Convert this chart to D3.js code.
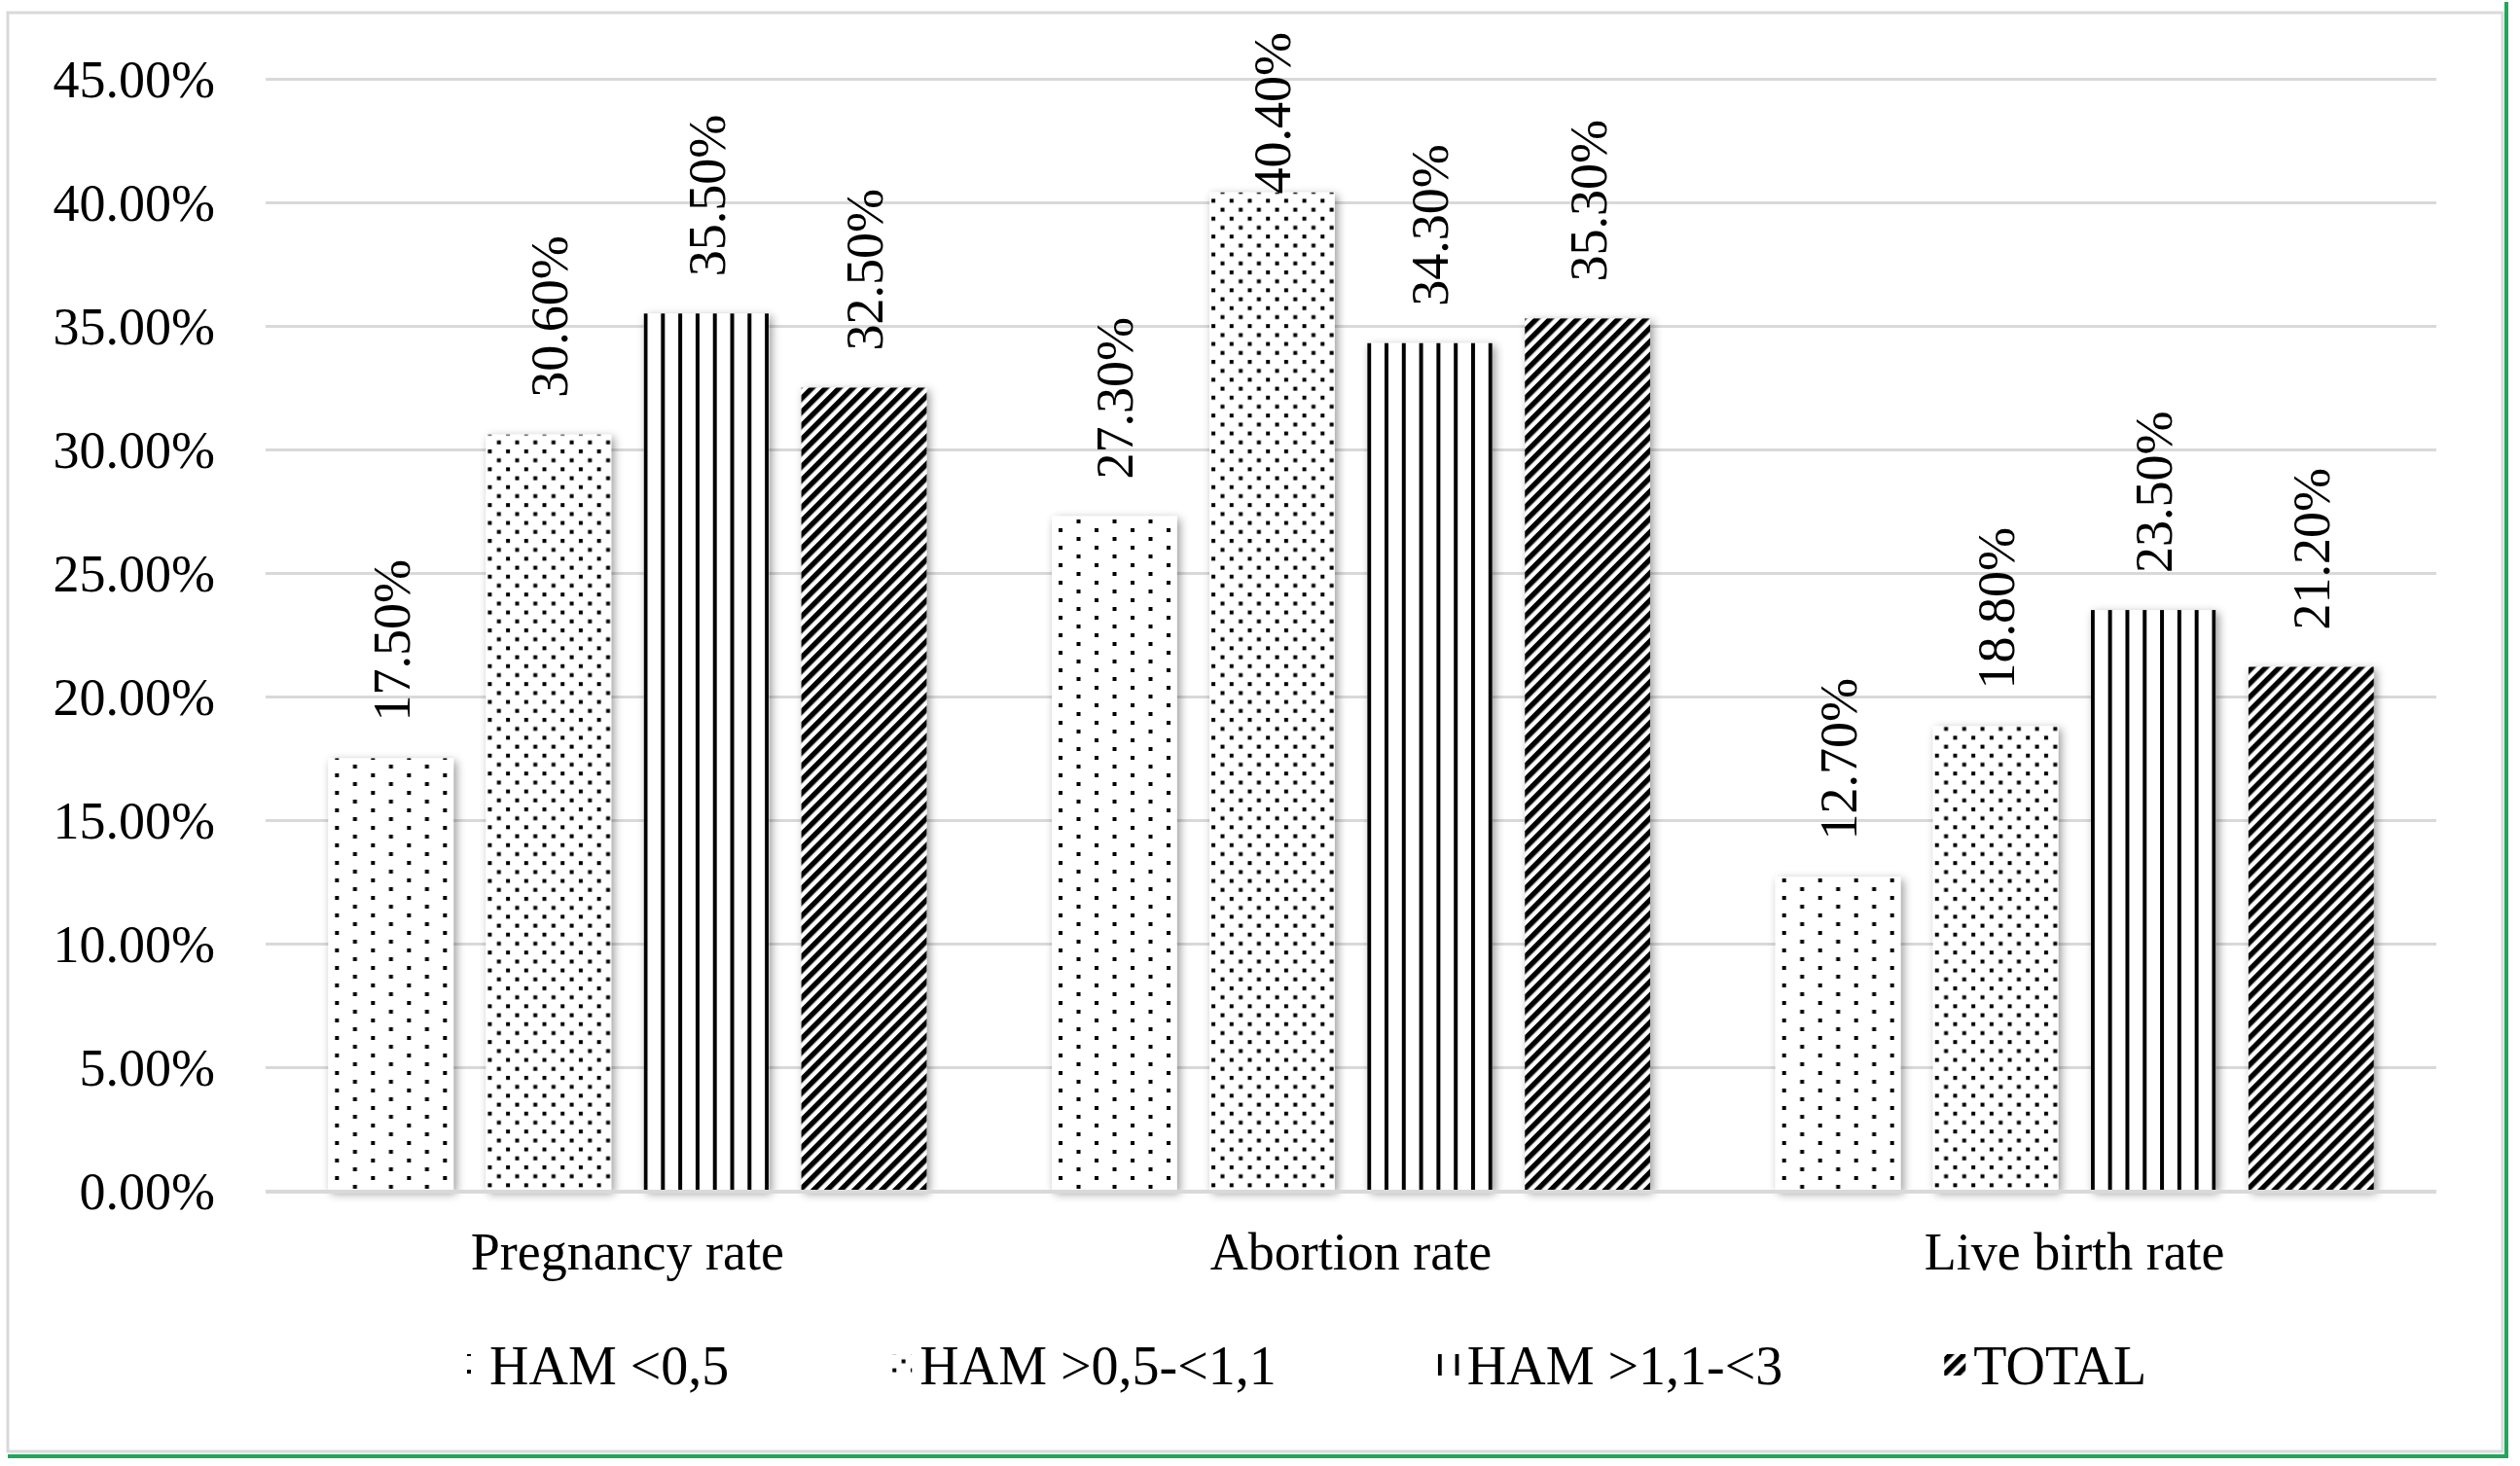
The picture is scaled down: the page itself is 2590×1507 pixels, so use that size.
<!DOCTYPE html>
<html>
<head>
<meta charset="utf-8">
<script src="https://cdn.jsdelivr.net/npm/d3@7"></script>
<style>
  body { margin: 0; background: #fff; }
  text { font-family: "Liberation Serif", "Times New Roman", serif; fill: #000; }
</style>
</head>
<body>
<div id="chart"></div>
<script>
// —————————— DATA
var categories = ["Pregnancy rate", "Abortion rate", "Live birth rate"];
var seriesNames = ["HAM <0,5", "HAM >0,5-<1,1", "HAM >1,1-<3", "TOTAL"];
var hamLow = [0.175, 0.273, 0.127];
var hamMid = [0.306, 0.404, 0.188];
var hamHigh = [0.355, 0.343, 0.235];
var total = [0.325, 0.353, 0.212];
var yTicks = [0, 0.05, 0.10, 0.15, 0.20, 0.25, 0.30, 0.35, 0.40, 0.45];

var seriesValues = [hamLow, hamMid, hamHigh, total];

// —————————— LAYOUT
var W = 2590, H = 1507;
var plot = {left: 273, right: 2504, top: 81, bottom: 1224};
var gridColor = "#d9d9d9";

var svg = d3.select("#chart")
  .append("svg")
    .attr("width", W)
    .attr("height", H);

var defs = svg.append("defs");

// soft shadow round the bars
var f = defs.append("filter")
    .attr("id", "shadow")
    .attr("x", "-30%").attr("y", "-10%")
    .attr("width", "160%").attr("height", "120%");
f.append("feDropShadow")
    .attr("dx", 3).attr("dy", 3)
    .attr("stdDeviation", 5)
    .attr("flood-color", "#000")
    .attr("flood-opacity", 0.4);

// pattern fills (one per series)
function addPattern(id, w, h, draw, transform) {
  var p = defs.append("pattern")
      .attr("id", id)
      .attr("patternUnits", "userSpaceOnUse")
      .attr("width", w)
      .attr("height", h);
  if (transform) p.attr("patternTransform", transform);
  p.append("rect").attr("width", w).attr("height", h).attr("fill", "#fff");
  draw(p);
}

// sparse dots
addPattern("pat0", 37, 18, function(p) {
  p.append("rect").attr("x", 7).attr("y", 3).attr("width", 4).attr("height", 4).attr("fill", "#000");
  p.append("rect").attr("x", 25.5).attr("y", 12).attr("width", 4).attr("height", 4).attr("fill", "#000");
});
// denser dots
addPattern("pat1", 18.7, 18.4, function(p) {
  p.append("rect").attr("x", 2).attr("y", 2).attr("width", 4).attr("height", 4).attr("fill", "#000");
  p.append("rect").attr("x", 11.35).attr("y", 11.2).attr("width", 4).attr("height", 4).attr("fill", "#000");
});
// vertical lines
addPattern("pat2", 17.8, 10, function(p) {
  p.append("rect").attr("x", 0).attr("y", 0).attr("width", 4).attr("height", 10).attr("fill", "#000");
});
// wide upward diagonal
addPattern("pat3", 9.9, 10, function(p) {
  p.append("rect").attr("x", 0).attr("y", 0).attr("width", 5.4).attr("height", 10).attr("fill", "#000");
}, "rotate(45)");

// —————————— FRAME
svg.append("line")
    .attr("x1", 2576).attr("x2", 2576).attr("y1", 2).attr("y2", 1499)
    .attr("stroke", "#25a55b").attr("stroke-width", 4);
svg.append("line")
    .attr("x1", 8).attr("x2", 2578).attr("y1", 1497).attr("y2", 1497)
    .attr("stroke", "#25a55b").attr("stroke-width", 4);
svg.append("rect")
    .attr("x", 8).attr("y", 13)
    .attr("width", 2564).attr("height", 1479)
    .attr("fill", "none")
    .attr("stroke", gridColor)
    .attr("stroke-width", 3);

// —————————— SCALES
var x0 = d3.scaleBand()
    .domain(categories)
    .range([plot.left, plot.right])
    .paddingInner(0)
    .paddingOuter(0);

var x1 = d3.scaleBand()
    .domain(seriesNames)
    .range([0, x0.bandwidth()])
    .paddingInner(0.206)
    .paddingOuter(0.397);

var y = d3.scaleLinear()
    .domain([0, 0.45])
    .range([plot.bottom, plot.top]);

// gridlines + y labels
var yAxis = svg.append("g")
    .attr("transform", "translate(" + plot.left + ",0)")
    .call(d3.axisLeft(y)
      .tickValues(yTicks)
      .tickSize(-(plot.right - plot.left))
      .tickPadding(52)
      .tickFormat(d3.format(".2%")));
yAxis.select(".domain").remove();
yAxis.selectAll(".tick line").attr("stroke", gridColor).attr("stroke-width", 3);
yAxis.selectAll(".tick text")
    .attr("font-size", 54)
    .attr("font-family", "Liberation Serif, Times New Roman, serif")
    .attr("dy", "0.34em");

// —————————— BARS
var rows = [];
seriesNames.forEach(function(s, si) {
  categories.forEach(function(c, ci) {
    rows.push({series: s, si: si, cat: c, value: seriesValues[si][ci]});
  });
});

var bars = svg.append("g")
  .selectAll("g.bar")
  .data(rows)
  .enter()
  .append("g")
    .attr("class", "bar")
    .attr("transform", function(d) { return "translate(" + (x0(d.cat) + x1(d.series)) + ",0)"; });

bars.append("rect")
    .attr("x", 0)
    .attr("y", function(d) { return y(d.value); })
    .attr("width", x1.bandwidth())
    .attr("height", function(d) { return y(0) - y(d.value); })
    .attr("fill", function(d) { return "url(#pat" + d.si + ")"; })
    .attr("filter", "url(#shadow)");

// x axis line
svg.append("line")
    .attr("x1", plot.left).attr("x2", plot.right)
    .attr("y1", y(0) + 1).attr("y2", y(0) + 1)
    .attr("stroke", gridColor)
    .attr("stroke-width", 4);

// value labels, rotated
var labels = svg.append("g")
  .selectAll("text")
  .data(rows)
  .enter()
  .append("text")
    .attr("font-size", 54)
    .attr("text-anchor", "start")
    .attr("dy", "0.35em")
    .text(function(d) { return d3.format(".2%")(d.value); });

labels.each(function(d) {
  var len = this.getComputedTextLength();
  var cx = x0(d.cat) + x1(d.series) + x1.bandwidth() / 2;
  var yy = Math.max(y(d.value) - 38, 33 + len);
  d3.select(this)
    .attr("x", cx)
    .attr("y", yy)
    .attr("transform", "rotate(-90," + cx + "," + yy + ")");
});

// category labels
svg.append("g")
  .selectAll("text")
  .data(categories)
  .enter()
  .append("text")
    .attr("x", function(d) { return x0(d) + x0.bandwidth() / 2; })
    .attr("y", y(0) + 81)
    .attr("font-size", 54)
    .attr("text-anchor", "middle")
    .text(function(d) { return d; });

// —————————— LEGEND
var legend = svg.append("g").attr("transform", "translate(473,1423)");
var lx = 0;
seriesNames.forEach(function(s, si) {
  var item = legend.append("g").attr("transform", "translate(" + lx + ",0)");
  item.append("rect")
      .attr("x", 0).attr("y", -31)
      .attr("width", 22).attr("height", 22)
      .attr("fill", "url(#pat" + si + ")");
  var t = item.append("text")
      .attr("x", 30)
      .attr("y", 0)
      .attr("font-size", 56)
      .text(s);
  lx += 30 + t.node().getComputedTextLength() + 166;
});
</script>
</body>
</html>
